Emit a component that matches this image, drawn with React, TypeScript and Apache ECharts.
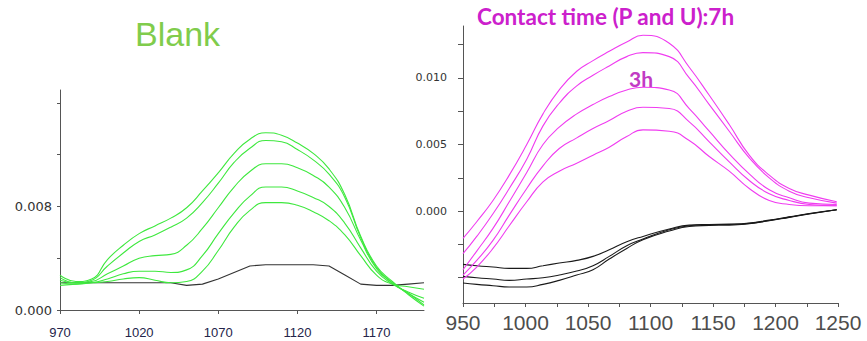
import { useEffect, useRef } from 'react';
import * as echarts from 'echarts';

// Blank panel: wavenumbers (cm-1) and absorbance traces
const BLANK_WN = [970, 980, 990, 1000, 1010, 1020, 1030, 1040, 1050, 1060, 1070, 1080, 1090, 1100, 1110, 1120, 1130, 1140, 1150, 1160, 1170, 1180, 1190, 1200];
const BLANK_G1 = [0.0027, 0.0022, 0.0024, 0.0039, 0.005, 0.0059, 0.0065, 0.0071, 0.0079, 0.0092, 0.0106, 0.0121, 0.0132, 0.0137, 0.0135, 0.0129, 0.0121, 0.0109, 0.0089, 0.0057, 0.0034, 0.0022, 0.0012, 0.0003];
const BLANK_G2 = [0.0025, 0.0021, 0.0023, 0.0034, 0.0044, 0.0053, 0.0058, 0.0064, 0.0071, 0.0083, 0.0098, 0.0114, 0.0125, 0.0131, 0.013, 0.0124, 0.0116, 0.0105, 0.0087, 0.0056, 0.0033, 0.0021, 0.0013, 0.0004];
const BLANK_G3 = [0.0023, 0.0021, 0.0022, 0.0028, 0.0034, 0.004, 0.0042, 0.0043, 0.005, 0.0063, 0.0079, 0.0095, 0.0107, 0.0113, 0.0113, 0.011, 0.0104, 0.0095, 0.0079, 0.0054, 0.0032, 0.0021, 0.0013, 0.0006];
const BLANK_G4 = [0.0021, 0.002, 0.0021, 0.0024, 0.0028, 0.003, 0.003, 0.0029, 0.0031, 0.0042, 0.0059, 0.0075, 0.0088, 0.0095, 0.0095, 0.0092, 0.0087, 0.008, 0.0067, 0.0048, 0.003, 0.002, 0.0014, 0.0009];
const BLANK_G5 = [0.0019, 0.002, 0.0021, 0.0022, 0.0024, 0.0025, 0.0023, 0.0021, 0.0022, 0.003, 0.0046, 0.0064, 0.0077, 0.0083, 0.0083, 0.0081, 0.0076, 0.0069, 0.0058, 0.0042, 0.0027, 0.002, 0.0018, 0.0016];
const BLANK_REF = [0.0021, 0.0021, 0.0021, 0.0021, 0.0021, 0.0021, 0.0021, 0.0021, 0.0019, 0.002, 0.0024, 0.0029, 0.0034, 0.0035, 0.0035, 0.0035, 0.0035, 0.0034, 0.0027, 0.002, 0.0019, 0.0019, 0.002, 0.0021];

const BLANK_X_TICKS = [970, 1020, 1070, 1120, 1170];
const BLANK_Y_TICKS = [0, 0.004, 0.008, 0.012, 0.016];
const BLANK_Y_LABELS = [0, 0.008];

// Contact-time panel: P and U traces (magenta) and reference traces (black)
const CT_WN = [950, 961, 974, 987, 1001, 1014, 1027, 1041, 1054, 1067, 1081, 1094, 1115, 1131, 1147, 1163, 1179, 1195, 1211, 1227, 1249];
const CT_M1 = [-0.00205, -0.0008, 0.0008, 0.0027, 0.005, 0.0073, 0.0091, 0.0105, 0.0113, 0.012, 0.0127, 0.0132, 0.0126, 0.0108, 0.0087, 0.0065, 0.0042, 0.0027, 0.0017, 0.0012, 0.0007];
const CT_M2 = [-0.0032, -0.0019, -0.0002, 0.0017, 0.0039, 0.0064, 0.0081, 0.0094, 0.0102, 0.0109, 0.0116, 0.0119, 0.0116, 0.01, 0.008, 0.006, 0.004, 0.0025, 0.0015, 0.001, 0.0006];
const CT_M3 = [-0.0044, -0.003, -0.0013, 0.0007, 0.0029, 0.005, 0.0063, 0.0073, 0.008, 0.0086, 0.0091, 0.0093, 0.0091, 0.0077, 0.006, 0.0043, 0.0028, 0.0016, 0.001, 0.0006, 0.0005];
const CT_M4 = [-0.0048, -0.0037, -0.0022, -0.0003, 0.0017, 0.0034, 0.0047, 0.0055, 0.0062, 0.0068, 0.0075, 0.0078, 0.0077, 0.0067, 0.0052, 0.0037, 0.0023, 0.0013, 0.0008, 0.0005, 0.0004];
const CT_M5 = [-0.0051, -0.0042, -0.0028, -0.0011, 0.0007, 0.0022, 0.003, 0.0036, 0.0042, 0.0048, 0.0056, 0.0061, 0.006, 0.0053, 0.0041, 0.003, 0.0017, 0.0008, 0.0005, 0.0004, 0.0004];
const CT_B1 = [-0.004, -0.0041, -0.0042, -0.0043, -0.0043, -0.0041, -0.0039, -0.0037, -0.0034, -0.0029, -0.0023, -0.0019, -0.00135, -0.00105, -0.001, -0.00098, -0.0009, -0.00068, -0.00043, -0.00018, 0.0001];
const CT_B2 = [-0.0049, -0.005, -0.0051, -0.0052, -0.0051, -0.005, -0.0048, -0.0045, -0.0041, -0.0034, -0.0026, -0.0021, -0.0014, -0.0011, -0.00102, -0.001, -0.00092, -0.0007, -0.00045, -0.0002, 0.0001];
const CT_B3 = [-0.0054, -0.0055, -0.0056, -0.0057, -0.0057, -0.0055, -0.0052, -0.0048, -0.0044, -0.0036, -0.0028, -0.00215, -0.0015, -0.00115, -0.00108, -0.00105, -0.00095, -0.00072, -0.00047, -0.00022, 0.0001];

const CT_X_TICKS = [950, 975, 1000, 1025, 1050, 1075, 1100, 1125, 1150, 1175, 1200, 1225, 1250];
const CT_X_LABELS = [950, 1000, 1050, 1100, 1150, 1200, 1250];
const CT_Y_TICKS = [-0.005, -0.0025, 0, 0.0025, 0.005, 0.0075, 0.01, 0.0125];
const CT_Y_LABELS = [0, 0.005, 0.01];

const GREEN = '#3ee83e';
const MAGENTA = '#f03cf0';

function pairs(xs: number[], ys: number[]) {
  return xs.map((x, i) => [x, ys[i]]);
}

function trace(xs: number[], ys: number[], color: string, grid: number, smooth = true) {
  return {
    type: 'line',
    xAxisIndex: grid,
    yAxisIndex: grid,
    data: pairs(xs, ys),
    smooth,
    showSymbol: false,
    silent: true,
    lineStyle: { color, width: 1.1 },
  };
}

export default function App() {
  const ref = useRef<HTMLDivElement>(null);

  useEffect(() => {
    const chart = echarts.init(ref.current!, null, { renderer: 'svg' });
    const axisLine = { show: true, onZero: false, lineStyle: { color: '#555', width: 1 } };
    chart.setOption({
      animation: false,
      backgroundColor: '#fff',
      grid: [
        { left: 60, top: 90, width: 364, height: 220 },
        { left: 463, top: 26, width: 375, height: 277 },
      ],
      xAxis: [
        {
          type: 'value', gridIndex: 0, min: 970, max: 1200,
          axisLine,
          axisTick: { show: true, length: 4, customValues: BLANK_X_TICKS, lineStyle: { color: '#555' } },
          axisLabel: {
            customValues: BLANK_X_TICKS, fontSize: 13, color: '#24244a', margin: 16,
            fontFamily: "'Liberation Sans Narrow', 'Arial Narrow', 'Liberation Sans', sans-serif",
            formatter: (v: number) => String(v),
          },
          splitLine: { show: false },
        },
        {
          type: 'value', gridIndex: 1, min: 950, max: 1250,
          axisLine,
          axisTick: { show: true, length: 4, customValues: CT_X_TICKS, lineStyle: { color: '#555' } },
          axisLabel: {
            customValues: CT_X_LABELS, fontSize: 21, color: '#4d4d4d', margin: 9,
            fontFamily: "'Liberation Sans', Arial, sans-serif",
            formatter: (v: number) => String(v),
          },
          splitLine: { show: false },
        },
      ],
      yAxis: [
        {
          type: 'value', gridIndex: 0, min: 0, max: 0.017,
          axisLine,
          axisTick: { show: true, length: 3, customValues: BLANK_Y_TICKS, lineStyle: { color: '#555' } },
          axisLabel: {
            customValues: BLANK_Y_LABELS, fontSize: 13, color: '#333', margin: 8,
            fontFamily: "'DejaVu Sans', sans-serif",
            formatter: (v: number) => v.toFixed(3),
          },
          splitLine: { show: false },
        },
        {
          type: 'value', gridIndex: 1, min: -0.0069, max: 0.0139,
          axisLine,
          axisTick: { show: true, length: 5, customValues: CT_Y_TICKS, lineStyle: { color: '#555' } },
          axisLabel: {
            customValues: CT_Y_LABELS, fontSize: 11, color: '#333', margin: 16,
            fontFamily: "'DejaVu Sans', sans-serif",
            formatter: (v: number) => v.toFixed(3),
          },
          splitLine: { show: false },
        },
      ],
      graphic: [
        {
          type: 'text', left: 135, top: 17,
          style: { text: 'Blank', fill: '#80cc4c', fontSize: 34, fontFamily: "'Liberation Sans', Arial, sans-serif" },
        },
        {
          type: 'text', left: 477, top: 5,
          style: { text: 'Contact time (P and U):7h', fill: '#cc20cc', fontSize: 22.5, fontWeight: 'bold', fontFamily: "Lato, 'Open Sans', sans-serif" },
        },
        {
          type: 'text', left: 629, top: 68,
          style: { text: '3h', fill: '#c23bc4', fontSize: 21, fontWeight: 'bold', fontFamily: "Lato, 'Open Sans', sans-serif" },
        },
      ],
      series: [
        trace(BLANK_WN, BLANK_REF, '#333', 0, false),
        trace(BLANK_WN, BLANK_G1, GREEN, 0),
        trace(BLANK_WN, BLANK_G2, GREEN, 0),
        trace(BLANK_WN, BLANK_G3, GREEN, 0),
        trace(BLANK_WN, BLANK_G4, GREEN, 0),
        trace(BLANK_WN, BLANK_G5, GREEN, 0),
        trace(CT_WN, CT_B1, '#1a1a1a', 1),
        trace(CT_WN, CT_B2, '#1a1a1a', 1),
        trace(CT_WN, CT_B3, '#1a1a1a', 1),
        trace(CT_WN, CT_M1, MAGENTA, 1),
        trace(CT_WN, CT_M2, MAGENTA, 1),
        trace(CT_WN, CT_M3, MAGENTA, 1),
        trace(CT_WN, CT_M4, MAGENTA, 1),
        trace(CT_WN, CT_M5, MAGENTA, 1),
      ],
    });
    return () => chart.dispose();
  }, []);

  return <div ref={ref} style={{ position: 'absolute', left: 0, top: 0, width: 867, height: 341 }} />;
}
